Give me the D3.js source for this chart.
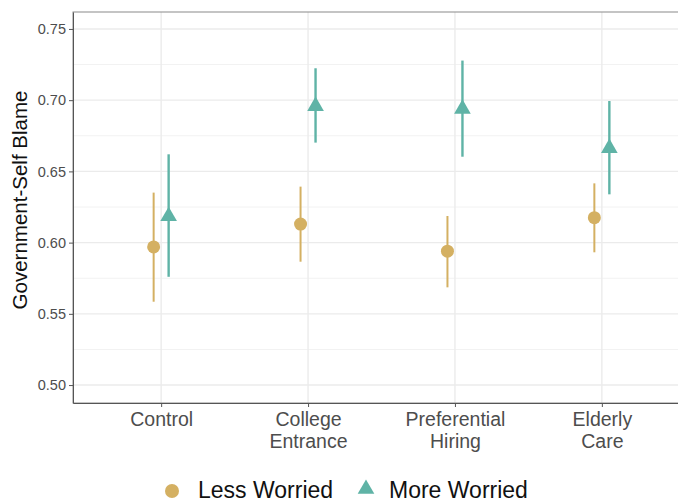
<!DOCTYPE html>
<html>
<head>
<meta charset="utf-8">
<script src="https://cdn.jsdelivr.net/npm/d3@7/dist/d3.min.js"></script>
<style>
  html, body { margin: 0; padding: 0; background: #fff; }
  svg { display: block; font-family: Arial, "Liberation Sans", Helvetica, sans-serif; }
</style>
</head>
<body>
<svg id="chart" width="678" height="502"></svg>
<script>
// Treatment conditions on the x axis
const categories = ["Control", "College Entrance", "Preferential Hiring", "Elderly Care"];
const categoryLines = [["Control"], ["College", "Entrance"], ["Preferential", "Hiring"], ["Elderly", "Care"]];

// Groups (legend order)
const groups = ["Less Worried", "More Worried"];

// Point estimates and 95% intervals, one entry per category
const lessEst   = [0.597, 0.613, 0.594, 0.6175];
const lessLo    = [0.5585, 0.5866, 0.5686, 0.5932];
const lessHi    = [0.6351, 0.6393, 0.6187, 0.6416];
const moreEst   = [0.6185, 0.6958, 0.6939, 0.6663];
const moreLo    = [0.576, 0.6702, 0.6603, 0.6339];
const moreHi    = [0.662, 0.7224, 0.7278, 0.6994];

const yTicks = [0.50, 0.55, 0.60, 0.65, 0.70, 0.75];
const yMinorTicks = [0.525, 0.575, 0.625, 0.675, 0.725];

const colors = { "Less Worried": "#d4b062", "More Worried": "#5fb3a6" };

const svg = d3.select("#chart");

const panel = { left: 73, top: 12, right: 690, bottom: 403 };

const x = d3.scalePoint()
  .domain(categories)
  .range([panel.left, panel.right])
  .padding(0.6);

const y = d3.scaleLinear()
  .domain([0.4874, 0.7619])
  .range([panel.bottom, panel.top]);

const dodge = d3.scalePoint().domain(groups).range([-7.5, 7.5]);

// Grid
const grid = svg.append("g");
grid.selectAll("line.minor").data(yMinorTicks).join("line")
  .attr("x1", panel.left).attr("x2", panel.right)
  .attr("y1", d => y(d)).attr("y2", d => y(d))
  .attr("stroke", "#f2f2f2").attr("stroke-width", 1);
grid.selectAll("line.major").data(yTicks).join("line")
  .attr("x1", panel.left).attr("x2", panel.right)
  .attr("y1", d => y(d)).attr("y2", d => y(d))
  .attr("stroke", "#ebebeb").attr("stroke-width", 1.4);
grid.selectAll("line.vmajor").data(categories).join("line")
  .attr("x1", d => x(d)).attr("x2", d => x(d))
  .attr("y1", panel.top).attr("y2", panel.bottom)
  .attr("stroke", "#ebebeb").attr("stroke-width", 1.4);

// Panel border
svg.append("rect")
  .attr("x", panel.left).attr("y", panel.top)
  .attr("width", panel.right - panel.left).attr("height", panel.bottom - panel.top)
  .attr("fill", "none").attr("stroke", "#8a8a8a").attr("stroke-width", 1);

// Axes
const yAxis = svg.append("g")
  .attr("transform", `translate(${panel.left},0)`)
  .call(d3.axisLeft(y).tickValues(yTicks).tickFormat(d3.format(".2f"))
    .tickSize(4).tickSizeOuter(0).tickPadding(3));
yAxis.select(".domain").attr("stroke", "#555");
yAxis.selectAll(".tick line").attr("stroke", "#555");
yAxis.selectAll(".tick text").attr("fill", "#4d4d4d").attr("font-size", 14.5);

const xAxis = svg.append("g")
  .attr("transform", `translate(0,${panel.bottom})`)
  .call(d3.axisBottom(x).tickSize(4).tickSizeOuter(0).tickFormat(""));
xAxis.select(".domain").attr("stroke", "#555");
xAxis.selectAll(".tick line").attr("stroke", "#555");
xAxis.selectAll(".tick").each(function(d, i) {
  const t = d3.select(this).append("text")
    .attr("fill", "#4d4d4d").attr("font-size", 19.5).attr("text-anchor", "middle");
  categoryLines[i].forEach((line, j) => {
    t.append("tspan").attr("x", 0).attr("y", 23 + j * 22).text(line);
  });
});

// Y axis title
svg.append("text")
  .attr("transform", `translate(27,200) rotate(-90)`)
  .attr("text-anchor", "middle")
  .attr("font-size", 20.5).attr("fill", "#111")
  .text("Government-Self Blame");

// Series data
const series = [
  { group: "Less Worried", est: lessEst, lo: lessLo, hi: lessHi },
  { group: "More Worried", est: moreEst, lo: moreLo, hi: moreHi }
];

const triPath = d3.symbol().type(d3.symbolTriangle).size(120);

series.forEach(s => {
  const rows = categories.map((c, i) => ({ c, est: s.est[i], lo: s.lo[i], hi: s.hi[i] }));
  const g = svg.append("g");
  g.selectAll("line").data(rows).join("line")
    .attr("x1", d => x(d.c) + dodge(s.group)).attr("x2", d => x(d.c) + dodge(s.group))
    .attr("y1", d => y(d.lo)).attr("y2", d => y(d.hi))
    .attr("stroke", colors[s.group])
    .attr("stroke-width", s.group === "Less Worried" ? 2 : 2.4);
  if (s.group === "Less Worried") {
    g.selectAll("circle").data(rows).join("circle")
      .attr("cx", d => x(d.c) + dodge(s.group)).attr("cy", d => y(d.est))
      .attr("r", 6.5).attr("fill", colors[s.group]);
  } else {
    g.selectAll("path").data(rows).join("path")
      .attr("d", triPath)
      .attr("transform", d => `translate(${x(d.c) + dodge(s.group)},${y(d.est)})`)
      .attr("fill", colors[s.group]);
  }
});

// Legend
const legend = svg.append("g");
legend.append("circle").attr("cx", 172).attr("cy", 491).attr("r", 7).attr("fill", colors["Less Worried"]);
legend.append("text").attr("x", 198).attr("y", 498).attr("font-size", 23).attr("fill", "#111").text("Less Worried");
legend.append("path").attr("d", triPath)
  .attr("transform", "translate(366,489)").attr("fill", colors["More Worried"]);
legend.append("text").attr("x", 389).attr("y", 498).attr("font-size", 23).attr("fill", "#111").text("More Worried");
</script>
</body>
</html>
